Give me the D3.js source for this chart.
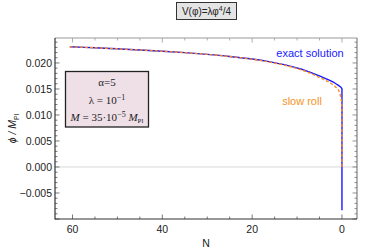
<!DOCTYPE html>
<html><head><meta charset="utf-8">
<script src="https://cdn.jsdelivr.net/npm/d3@7"></script>
<style>body{margin:0;background:#fff}svg{display:block}</style>
</head><body><svg id="c" width="374" height="252"></svg>
<script>
const nExact = [60.6,55,50,45,40,35,30,25,20,16,12,9,7,5,3.5,2.5,1.5,0.8,0.3,0.03,0,0,0];
const phiExact = [0.02311,0.02292,0.02272,0.0225,0.02226,0.02198,0.02165,0.02125,0.02075,0.0202,0.0195,0.0188,0.0182,0.0175,0.01695,0.01655,0.0161,0.0157,0.0154,0.0151,0.0146,0.004,-0.0083];
const nSlow = [60.6,55,50,45,40,35,30,25,20,16,12,9,7,5,3.5,2.5,1.5,0.8,0.4,0.2,0.08,0.02,0,0];
const phiSlow = [0.02311,0.02292,0.02272,0.0225,0.02226,0.02198,0.02165,0.02125,0.02072,0.02015,0.0194,0.01865,0.018,0.0172,0.0166,0.0161,0.01545,0.0148,0.0139,0.0131,0.0124,0.0115,0.006,0];
const xTicks = [60,40,20,0];
const yTicks = [-0.005,0,0.005,0.010,0.015,0.020];

const svg = d3.select("#c");
const L=55,R=357,T=38,B=219;
const x = d3.scaleLinear().domain([63.9,-3.35]).range([L,R]);
const y = d3.scaleLinear().domain([-0.0100,0.0248]).range([B,T]);
const font = "Liberation Sans, Arial, sans-serif";

svg.append("line").attr("x1",L).attr("x2",R).attr("y1",y(0)).attr("y2",y(0)).attr("stroke","#d8d8d8").attr("stroke-width",1);

const g = svg.append("g").attr("stroke","#555").attr("stroke-width",0.8);
d3.range(0,64,5).forEach(v=>{
  const major = xTicks.includes(v); const len = major?4.5:2.5;
  g.append("line").attr("x1",x(v)).attr("x2",x(v)).attr("y1",B).attr("y2",B-len);
  g.append("line").attr("x1",x(v)).attr("x2",x(v)).attr("y1",T).attr("y2",T+len).attr("stroke","#999");
});
d3.range(-10,25).forEach(i=>{
  const v=i/1000; const major = i%5===0; const len = major?4.5:2.5;
  g.append("line").attr("x1",L).attr("x2",L+len).attr("y1",y(v)).attr("y2",y(v));
  g.append("line").attr("x1",R).attr("x2",R-len).attr("y1",y(v)).attr("y2",y(v)).attr("stroke","#777");
});

svg.append("line").attr("x1",L).attr("x2",R).attr("y1",T).attr("y2",T).attr("stroke","#999").attr("stroke-width",1);
svg.append("line").attr("x1",R).attr("x2",R).attr("y1",T).attr("y2",B).attr("stroke","#666").attr("stroke-width",1);
svg.append("line").attr("x1",L).attr("x2",L).attr("y1",T).attr("y2",B+0.5).attr("stroke","#333").attr("stroke-width",1.2);
svg.append("line").attr("x1",L).attr("x2",R).attr("y1",B).attr("y2",B).attr("stroke","#333").attr("stroke-width",1.2);

xTicks.forEach(v=>svg.append("text").attr("x",x(v)).attr("y",B+14).attr("text-anchor","middle")
  .attr("font-family",font).attr("font-size",10.5).attr("fill","#222").text(v));
yTicks.forEach(v=>svg.append("text").attr("x",L-3).attr("y",y(v)+3.7).attr("text-anchor","end")
  .attr("font-family",font).attr("font-size",10.5).attr("fill","#222").text(d3.format(".3f")(v).replace("-","\u2212")));

svg.append("text").attr("x",(L+R)/2).attr("y",B+28).attr("text-anchor","middle").attr("font-family",font).attr("font-size",10.5).attr("fill","#222").text("N");
const yl = svg.append("text").attr("transform",`translate(16,${(T+B)/2}) rotate(-90)`).attr("text-anchor","middle").attr("font-family",font).attr("font-size",10.5).attr("fill","#222");
yl.append("tspan").attr("font-style","italic").text("ϕ / M");
yl.append("tspan").attr("font-size",7).attr("dy",2.5).text("Pl");

const line = d3.line().x(d=>x(d[0])).y(d=>y(d[1])).curve(d3.curveCatmullRom.alpha(0.5));
svg.append("path").datum(nExact.map((n,i)=>[n,phiExact[i]])).attr("d",line).attr("fill","none").attr("stroke","#1a1aff").attr("stroke-width",1.4);
svg.append("path").datum(nSlow.map((n,i)=>[n,phiSlow[i]])).attr("d",line).attr("fill","none").attr("stroke","#ff8a1a").attr("stroke-width",1.4).attr("stroke-dasharray","3,2");

svg.append("text").attr("x",310).attr("y",57).attr("text-anchor","middle").attr("font-family",font).attr("font-size",11).attr("fill","#1a1aff").text("exact solution");
svg.append("text").attr("x",302).attr("y",105).attr("text-anchor","middle").attr("font-family",font).attr("font-size",11).attr("fill","#f7931e").text("slow roll");

svg.append("rect").attr("x",176.5).attr("y",2.5).attr("width",60).attr("height",17).attr("fill","#e4e4e4").attr("stroke","#333").attr("stroke-width",1);
const tt = svg.append("text").attr("x",206.5).attr("y",15).attr("text-anchor","middle").attr("font-family",font).attr("font-size",10).attr("fill","#222");
tt.append("tspan").text("V(φ)=λφ");
tt.append("tspan").attr("font-size",7).attr("dy",-4).text("4");
tt.append("tspan").attr("dy",4).text("/4");

svg.append("rect").attr("x",65.5).attr("y",71.5).attr("width",83).attr("height",55.5).attr("fill","#efe0e8").attr("stroke","#222").attr("stroke-width",1.3);
const sf = "Liberation Serif, Times New Roman, serif";
const bx = 107;
svg.append("text").attr("x",bx).attr("y",86).attr("text-anchor","middle").attr("font-family",sf).attr("font-size",11).attr("fill","#222").text("α=5");
const t2 = svg.append("text").attr("x",bx).attr("y",104).attr("text-anchor","middle").attr("font-family",sf).attr("font-size",11).attr("fill","#222");
t2.append("tspan").text("λ = 10");
t2.append("tspan").attr("font-size",8).attr("dy",-4).text("−1");
const t3 = svg.append("text").attr("x",bx).attr("y",121).attr("text-anchor","middle").attr("font-family",sf).attr("font-size",11).attr("fill","#222");
t3.append("tspan").attr("font-style","italic").text("M");
t3.append("tspan").text(" = 35·10");
t3.append("tspan").attr("font-size",8).attr("dy",-4).text("−5");
t3.append("tspan").attr("dy",4).text(" ");
t3.append("tspan").attr("font-style","italic").text("M");
t3.append("tspan").attr("font-size",7).attr("dy",2).text("Pl");
</script></body></html>
